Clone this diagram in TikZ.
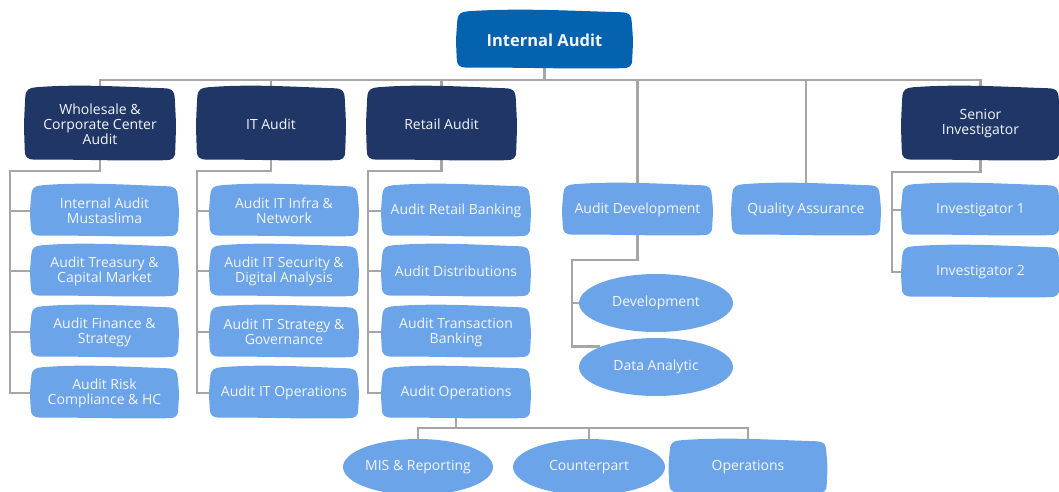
\documentclass[tikz,border=0pt]{standalone}
\usepackage{fontspec}
\setmainfont{Open Sans}
\usetikzlibrary{calc,backgrounds,shapes.geometric}

\definecolor{topblue}{HTML}{0562AE}
\definecolor{navy}{HTML}{1F3666}
\definecolor{sky}{HTML}{6BA4E9}
\definecolor{wirecol}{HTML}{A6A6A6}
\definecolor{labelcol}{HTML}{F4F6FA}

% hand-drawn looking filled box behind a named node
\newcommand\handbox[2]{%
  \fill[#2] let \p1=(#1.south west), \p2=(#1.north east), \n1={\x2-\x1} in
    (\x1,\y1+9pt) .. controls (\x1-1pt,{(\y1+\y2)/2}) .. (\x1+0.5pt,\y2-9pt)
    .. controls (\x1+1pt,\y2-2pt) and (\x1+4pt,\y2) .. (\x1+11pt,\y2+0.5pt)
    .. controls (\x1+0.35*\n1,\y2+4pt) and (\x2-0.35*\n1,\y2+1pt) .. (\x2-10pt,\y2-0.5pt)
    .. controls (\x2-3pt,\y2-1pt) and (\x2-1pt,\y2-3pt) .. (\x2-0.5pt,\y2-10pt)
    .. controls (\x2+1pt,{(\y1+\y2)/2}) .. (\x2,\y1+9pt)
    .. controls (\x2,\y1+2pt) and (\x2-3pt,\y1) .. (\x2-10pt,\y1)
    .. controls (\x2-0.4*\n1,\y1-1pt) and (\x1+0.4*\n1,\y1+1pt) .. (\x1+10pt,\y1+0.5pt)
    .. controls (\x1+3pt,\y1+0.5pt) and (\x1,\y1+3pt) .. cycle;
}

\tikzset{
  base/.style={align=center, text=labelcol, inner sep=0pt, font=\fontsize{14}{15}\selectfont},
  headbox/.style={base, minimum width=148pt, minimum height=72pt},
  unitbox/.style={base, minimum width=148pt, minimum height=50pt},
  oval/.style={base, ellipse, fill=sky, minimum width=154pt, minimum height=58pt},
  wire/.style={draw=wirecol, line width=2.6pt},
}

\begin{document}
\begin{tikzpicture}[x=1pt,y=-1pt]
\useasboundingbox (0,0) rectangle (1059,492);

% head
\node[base, minimum width=175pt, minimum height=56pt,
      font=\fontsize{16.5}{18}\selectfont\bfseries] (top) at (544.5,40) {Internal Audit};

% first level
\node[headbox, minimum width=150pt] (wcc) at (100,124) {Wholesale \&\\Corporate Center\\Audit};
\node[headbox] (ita) at (271,124) {IT Audit};
\node[headbox, minimum width=149pt] (ra) at (441.5,124) {Retail Audit};
\node[headbox, minimum width=157pt] (si) at (980.5,124) {Senior\\Investigator};
\node[unitbox, minimum width=149pt] (ad) at (637.5,210) {Audit Development};
\node[unitbox] (qa) at (806,210) {Quality Assurance};

% wholesale units
\node[unitbox, minimum width=147pt] (iam) at (104.5,211) {Internal Audit\\Mustaslima};
\node[unitbox, minimum width=147pt] (atc) at (104.5,271) {Audit Treasury \&\\Capital Market};
\node[unitbox, minimum width=147pt] (afs) at (104.5,332) {Audit Finance \&\\Strategy};
\node[unitbox, minimum width=147pt] (arc) at (104.5,393) {Audit Risk\\Compliance \& HC};

% IT units
\node[unitbox] (infra) at (284,211) {Audit IT Infra \&\\Network};
\node[unitbox] (sec) at (284,271) {Audit IT Security \&\\Digital Analysis};
\node[unitbox] (strat) at (284,332) {Audit IT Strategy \&\\Governance};
\node[unitbox] (itops) at (284,393) {Audit IT Operations};

% retail units
\node[unitbox] (arb) at (456,211) {Audit Retail Banking};
\node[unitbox] (adis) at (456,271) {Audit Distributions};
\node[unitbox] (atb) at (456,332) {Audit Transaction\\Banking};
\node[unitbox] (aops) at (456,393) {Audit Operations};

% investigators
\node[unitbox, minimum width=157pt] (inv1) at (980.5,210) {Investigator 1};
\node[unitbox, minimum width=157pt] (inv2) at (980.5,272) {Investigator 2};

% development teams
\node[oval] (dev) at (656,303) {Development};
\node[oval] (dan) at (656,367) {Data Analytic};

% operations teams
\node[oval, minimum width=150pt, minimum height=56pt] (mis) at (418,467) {MIS \& Reporting};
\node[oval, minimum width=152pt, minimum height=56pt] (cp) at (589,467) {Counterpart};
\node[unitbox, minimum width=157pt, minimum height=52pt] (ops) at (748,467) {Operations};

\begin{scope}[on background layer]
  % main bus
  \coordinate (bus) at (0,80);
  \draw[wire] (top.south) -- (top.south |- bus);
  \draw[wire] (wcc.north) -- (wcc.north |- bus) -- (si.north |- bus) -- (si.north);
  \foreach \nm in {ita,ra,ad,qa} \draw[wire] (\nm.north) -- (\nm.north |- bus);

  % wholesale column
  \coordinate (c1) at (10,171);
  \draw[wire] (wcc.south) |- (c1) -- (c1 |- arc.west) -- (arc.west);
  \foreach \nm in {iam,atc,afs} \draw[wire] (c1 |- \nm.west) -- (\nm.west);

  % IT column
  \coordinate (c2) at (197,171);
  \draw[wire] (ita.south) |- (c2) -- (c2 |- itops.west) -- (itops.west);
  \foreach \nm in {infra,sec,strat} \draw[wire] (c2 |- \nm.west) -- (\nm.west);

  % retail column
  \coordinate (c3) at (368,171);
  \draw[wire] (ra.south) |- (c3) -- (c3 |- aops.west) -- (aops.west);
  \foreach \nm in {arb,adis,atb} \draw[wire] (c3 |- \nm.west) -- (\nm.west);

  % investigators
  \coordinate (c4) at (892,172);
  \draw[wire] (si.south) |- (c4) -- (c4 |- inv2.west) -- (inv2.west);
  \draw[wire] (c4 |- inv1.west) -- (inv1.west);

  % development
  \coordinate (c5) at (572,260);
  \draw[wire] (ad.south) |- (c5) -- (c5 |- dan.160) -- (dan.160);
  \draw[wire] (c5 |- dev.west) -- (dev.west);

  % operations
  \coordinate (c6) at (0,428);
  \draw[wire] (aops.south) -- (aops.south |- c6);
  \draw[wire] (mis.north) -- (mis.north |- c6) -- (ops.north |- c6) -- (ops.north);
  \draw[wire] (cp.north) -- (cp.north |- c6);

  % box fills
  \handbox{top}{topblue}
  \foreach \nm in {wcc,ita,ra,si} {\handbox{\nm}{navy}}
  \foreach \nm in {ad,qa,iam,atc,afs,arc,infra,sec,strat,itops,arb,adis,atb,aops,inv1,inv2,ops}
    {\handbox{\nm}{sky}}
\end{scope}
\end{tikzpicture}
\end{document}
